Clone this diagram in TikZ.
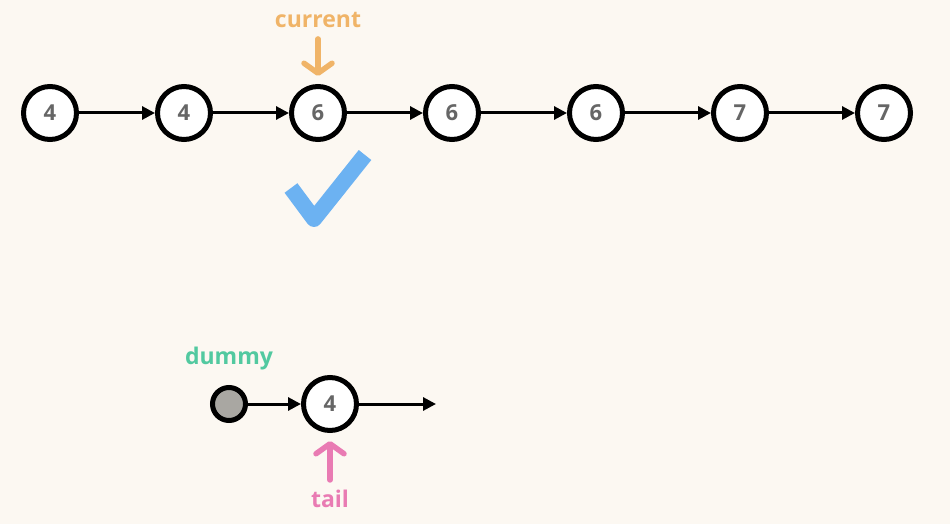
\documentclass[tikz,border=0pt]{standalone}
\usepackage{fontspec}
\setmainfont{Open Sans}
\usetikzlibrary{arrows.meta}
\definecolor{bg}{HTML}{FCF8F2}
\definecolor{digit}{HTML}{666666}
\definecolor{curcol}{HTML}{F0B468}
\definecolor{checkcol}{HTML}{6CB2F2}
\definecolor{dumcol}{HTML}{52C9A0}
\definecolor{tailcol}{HTML}{E97BB3}
\definecolor{dumfill}{HTML}{A9A7A2}
\tikzset{
  lnode/.style={circle, draw=black, line width=5pt, fill=white, minimum size=53pt, inner sep=0pt,
    font=\fontsize{22}{22}\selectfont\bfseries, text=digit},
  dnode/.style={circle, draw=black, line width=5pt, fill=dumfill, minimum size=33pt, inner sep=0pt},
  link/.style={-{Triangle[length=13pt,width=13pt]}, line width=3pt},
  ptr/.style={-{Straight Barb[length=10pt,width=28pt,round]}, line width=5.5pt, line cap=round},
  lbl/.style={font=\fontsize{23}{23}\selectfont\bfseries, inner sep=0pt}
}
\begin{document}
\begin{tikzpicture}[x=1pt,y=-1pt]
\fill[bg] (0,0) rectangle (950,524);
\useasboundingbox (0,0) rectangle (950,524);
% top list
\node[lnode] (n1) at (50,113) {4};
\node[lnode] (n2) at (184,113) {4};
\node[lnode] (n3) at (318,113) {6};
\node[lnode] (n4) at (452,113) {6};
\node[lnode] (n5) at (596,113) {6};
\node[lnode] (n6) at (740,113) {7};
\node[lnode] (n7) at (884,113) {7};
\draw[link] (n1) -- (n2);
\draw[link] (n2) -- (n3);
\draw[link] (n3) -- (n4);
\draw[link] (n4) -- (n5);
\draw[link] (n5) -- (n6);
\draw[link] (n6) -- (n7);
% current pointer
\node[lbl, text=curcol] (cur) at (318,20) {current};
\draw[ptr, draw=curcol, shorten <=11pt, shorten >=8pt] (cur.south) -- (n3.north);
% check mark
\draw[checkcol, line width=16pt, line cap=butt, line join=round] (291,188) -- (314,219) -- (365,155);
% bottom
\node[dnode] (dm) at (229,404) {};
\node[lnode] (t4) at (330,404) {4};
\coordinate (tend) at (436,404);
\draw[link] (dm) -- (t4);
\draw[link] (t4) -- (tend);
\node[lbl, text=dumcol] (dlab) at (229,359) {dummy};
\node[lbl, text=tailcol] (tlab) at (330,499) {tail};
\draw[ptr, draw=tailcol, shorten <=10pt, shorten >=8pt] (tlab.north) -- (t4.south);
\end{tikzpicture}
\end{document}
